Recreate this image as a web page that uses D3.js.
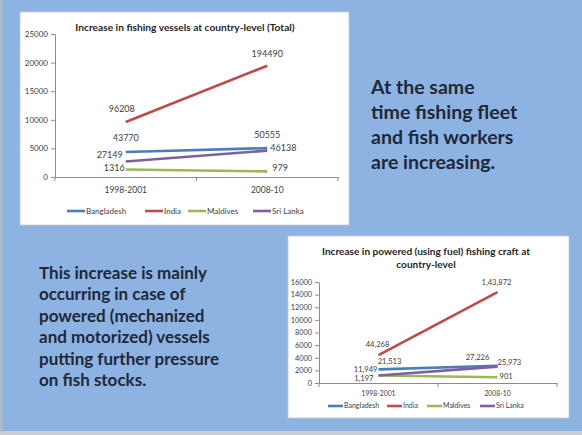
<!DOCTYPE html>
<html><head><meta charset="utf-8">
<script src="https://cdn.jsdelivr.net/npm/d3@7"></script>
<style>html,body{margin:0;padding:0;background:#8db3e2;overflow:hidden}svg{display:block}</style>
</head><body>
<script>
// ---------- data ----------
const categories = ["1998-2001", "2008-10"];
const seriesNames = ["Bangladesh", "India", "Maldives", "Sri Lanka"];
const seriesColors = ["#4a7ebb", "#be4b48", "#98b954", "#7d60a0"];

// Chart 1: total vessels (plotted values) and their printed labels
const bangladeshTotal = [4377, 5055.5];
const indiaTotal = [9620.8, 19449];
const maldivesTotal = [1316, 979];
const sriLankaTotal = [2714.9, 4613.8];
const bangladeshTotalLabels = ["43770", "50555"];
const indiaTotalLabels = ["96208", "194490"];
const maldivesTotalLabels = ["1316", "979"];
const sriLankaTotalLabels = ["27149", "46138"];
const yTicks1 = [0, 5000, 10000, 15000, 20000, 25000];

// Chart 2: powered craft (plotted values) and their printed labels
const bangladeshPowered = [2151.3, 2722.6];
const indiaPowered = [4426.8, 14387.2];
const maldivesPowered = [1197, 901];
const sriLankaPowered = [1194.9, 2597.3];
const bangladeshPoweredLabels = ["21,513", "27,226"];
const indiaPoweredLabels = ["44,268", "1,43,872"];
const maldivesPoweredLabels = ["1,197", "901"];
const sriLankaPoweredLabels = ["11,949", "25,973"];
const yTicks2 = [0, 2000, 4000, 6000, 8000, 10000, 12000, 14000, 16000];

const title1 = "Increase in fishing vessels at country-level (Total)";
const title2 = ["Increase in powered (using fuel) fishing craft at", "country-level"];
const textRight = ["At the same", "time fishing fleet", "and fish workers", "are increasing."];
const textLeft = ["This increase is mainly", "occurring in case of", "powered (mechanized", "and motorized) vessels", "putting further pressure", "on fish stocks."];

// ---------- drawing ----------
const W = 582, H = 435;
const FONT = "Lato, 'Open Sans', sans-serif";
const svg = d3.select("body").append("svg").attr("width", W).attr("height", H);
svg.append("rect").attr("width", W).attr("height", H).attr("fill", "#8db3e2");
svg.append("rect").attr("x", 0).attr("y", 0).attr("width", 3).attr("height", H).attr("fill", "#a9b9d0");
svg.append("rect").attr("x", 0).attr("y", 431).attr("width", W).attr("height", 4).attr("fill", "#c9ced6");

function drawChart(cfg) {
  const g = svg.append("g");
  g.append("rect").attr("x", cfg.box[0]).attr("y", cfg.box[1])
    .attr("width", cfg.box[2]).attr("height", cfg.box[3])
    .attr("fill", "#fff").attr("stroke", "#c8c8c8").attr("stroke-width", 0.8);
  cfg.title.forEach((t, i) => {
    g.append("text").attr("x", cfg.titleX).attr("y", cfg.titleY + i * cfg.titleLH)
      .attr("text-anchor", "middle").attr("font-family", FONT).attr("font-weight", "bold")
      .attr("font-size", cfg.titleSize).attr("fill", "#262626").text(t);
  });
  const x = d3.scaleBand().domain(categories).range([cfg.plot.x0, cfg.plot.x1]);
  const y = d3.scaleLinear().domain([0, cfg.yMax]).range([cfg.plot.y1, cfg.plot.y0]);

  const yAxis = g.append("g").attr("transform", `translate(${cfg.plot.x0},0)`)
    .call(d3.axisLeft(y).tickValues(cfg.yTicks).tickSize(4).tickSizeOuter(0).tickPadding(3).tickFormat(d3.format("d")));
  yAxis.selectAll("path,line").attr("stroke", "#8c8c8c");
  yAxis.selectAll("text").attr("font-family", FONT).attr("font-size", cfg.tickSize).attr("fill", "#404040");

  const xAxis = g.append("g").attr("transform", `translate(0,${cfg.plot.y1})`)
    .call(d3.axisBottom(x).tickSize(0).tickPadding(cfg.catPad));
  xAxis.select("path").attr("stroke", "#8c8c8c");
  xAxis.selectAll("text").attr("font-family", FONT).attr("font-size", cfg.catSize).attr("fill", "#404040");
  const bounds = [cfg.plot.x0, (cfg.plot.x0 + cfg.plot.x1) / 2, cfg.plot.x1];
  xAxis.selectAll("line.b").data(bounds).enter().append("line").attr("class", "b")
    .attr("x1", d => d).attr("x2", d => d).attr("y1", 0).attr("y2", 4).attr("stroke", "#8c8c8c");

  const line = d3.line().x((d, i) => x(categories[i]) + x.bandwidth() / 2).y(d => y(d));
  cfg.series.forEach((s, si) => {
    g.append("path").datum(s.values).attr("d", line).attr("fill", "none")
      .attr("stroke", seriesColors[si]).attr("stroke-width", 2.6).attr("stroke-linecap", "butt");
  });
  cfg.series.forEach((s, si) => {
    s.labels.forEach((lab, i) => {
      const o = cfg.labelOffsets[si][i];
      g.append("text")
        .attr("x", x(categories[i]) + x.bandwidth() / 2 + o[0])
        .attr("y", y(s.values[i]) + o[1])
        .attr("dy", "0.35em").attr("text-anchor", o[2])
        .attr("font-family", FONT).attr("font-size", cfg.labelSize).attr("fill", "#404040").text(lab);
    });
  });
  seriesNames.forEach((n, i) => {
    const lx = cfg.legendX[i];
    g.append("line").attr("x1", lx).attr("x2", lx + cfg.legendLine).attr("y1", cfg.legendY).attr("y2", cfg.legendY)
      .attr("stroke", seriesColors[i]).attr("stroke-width", 2.6);
    g.append("text").attr("x", lx + cfg.legendLine + 1).attr("y", cfg.legendY).attr("dy", "0.35em")
      .attr("font-family", FONT).attr("font-size", cfg.legendSize).attr("fill", "#404040").text(n);
  });
}

drawChart({
  box: [20, 12, 329, 213],
  title: [title1], titleX: 185, titleY: 31, titleLH: 0, titleSize: 10.2,
  plot: { x0: 55, x1: 338, y0: 34, y1: 177 }, yMax: 25000, yTicks: yTicks1,
  tickSize: 8, catSize: 8.5, catPad: 10, labelSize: 9, legendSize: 8,
  series: [
    { values: bangladeshTotal, labels: bangladeshTotalLabels },
    { values: indiaTotal, labels: indiaTotalLabels },
    { values: maldivesTotal, labels: maldivesTotalLabels },
    { values: sriLankaTotal, labels: sriLankaTotalLabels }
  ],
  labelOffsets: [
    [[0, -14, "middle"], [0, -13, "middle"]],
    [[-4, -13, "middle"], [0, -12, "middle"]],
    [[-1, -2, "end"], [5, -4, "start"]],
    [[-3, -7, "end"], [3, -3, "start"]]
  ],
  legendX: [67, 145, 188, 253], legendY: 211, legendLine: 18
});

drawChart({
  box: [288, 236, 281, 182],
  title: title2, titleX: 426, titleY: 255, titleLH: 13, titleSize: 10.1,
  plot: { x0: 319, x1: 557, y0: 282, y1: 383 }, yMax: 16000, yTicks: yTicks2,
  tickSize: 7.3, catSize: 6.8, catPad: 8, labelSize: 7.6, legendSize: 7,
  series: [
    { values: bangladeshPowered, labels: bangladeshPoweredLabels },
    { values: indiaPowered, labels: indiaPoweredLabels },
    { values: maldivesPowered, labels: maldivesPoweredLabels },
    { values: sriLankaPowered, labels: sriLankaPoweredLabels }
  ],
  labelOffsets: [
    [[11, -8, "middle"], [-20, -8, "middle"]],
    [[-1, -11, "middle"], [-1, -10, "middle"]],
    [[-5, 3, "end"], [2, -1, "start"]],
    [[-1, -6, "end"], [0, -4, "start"]]
  ],
  legendX: [328, 387, 427, 480], legendY: 406, legendLine: 15
});

// slide text
svg.append("g").selectAll("text").data(textRight).enter().append("text")
  .attr("x", 371).attr("y", (d, i) => 87 + i * 25).attr("dy", "0.35em")
  .attr("font-family", FONT).attr("font-weight", "bold").attr("font-size", 19.5)
  .attr("fill", "#1f2838").text(d => d);
svg.append("g").selectAll("text").data(textLeft).enter().append("text")
  .attr("x", 39).attr("y", (d, i) => 273 + i * 21.4).attr("dy", "0.35em")
  .attr("font-family", FONT).attr("font-weight", "bold").attr("font-size", 17)
  .attr("fill", "#1f2838").text(d => d);
</script>
</body></html>
